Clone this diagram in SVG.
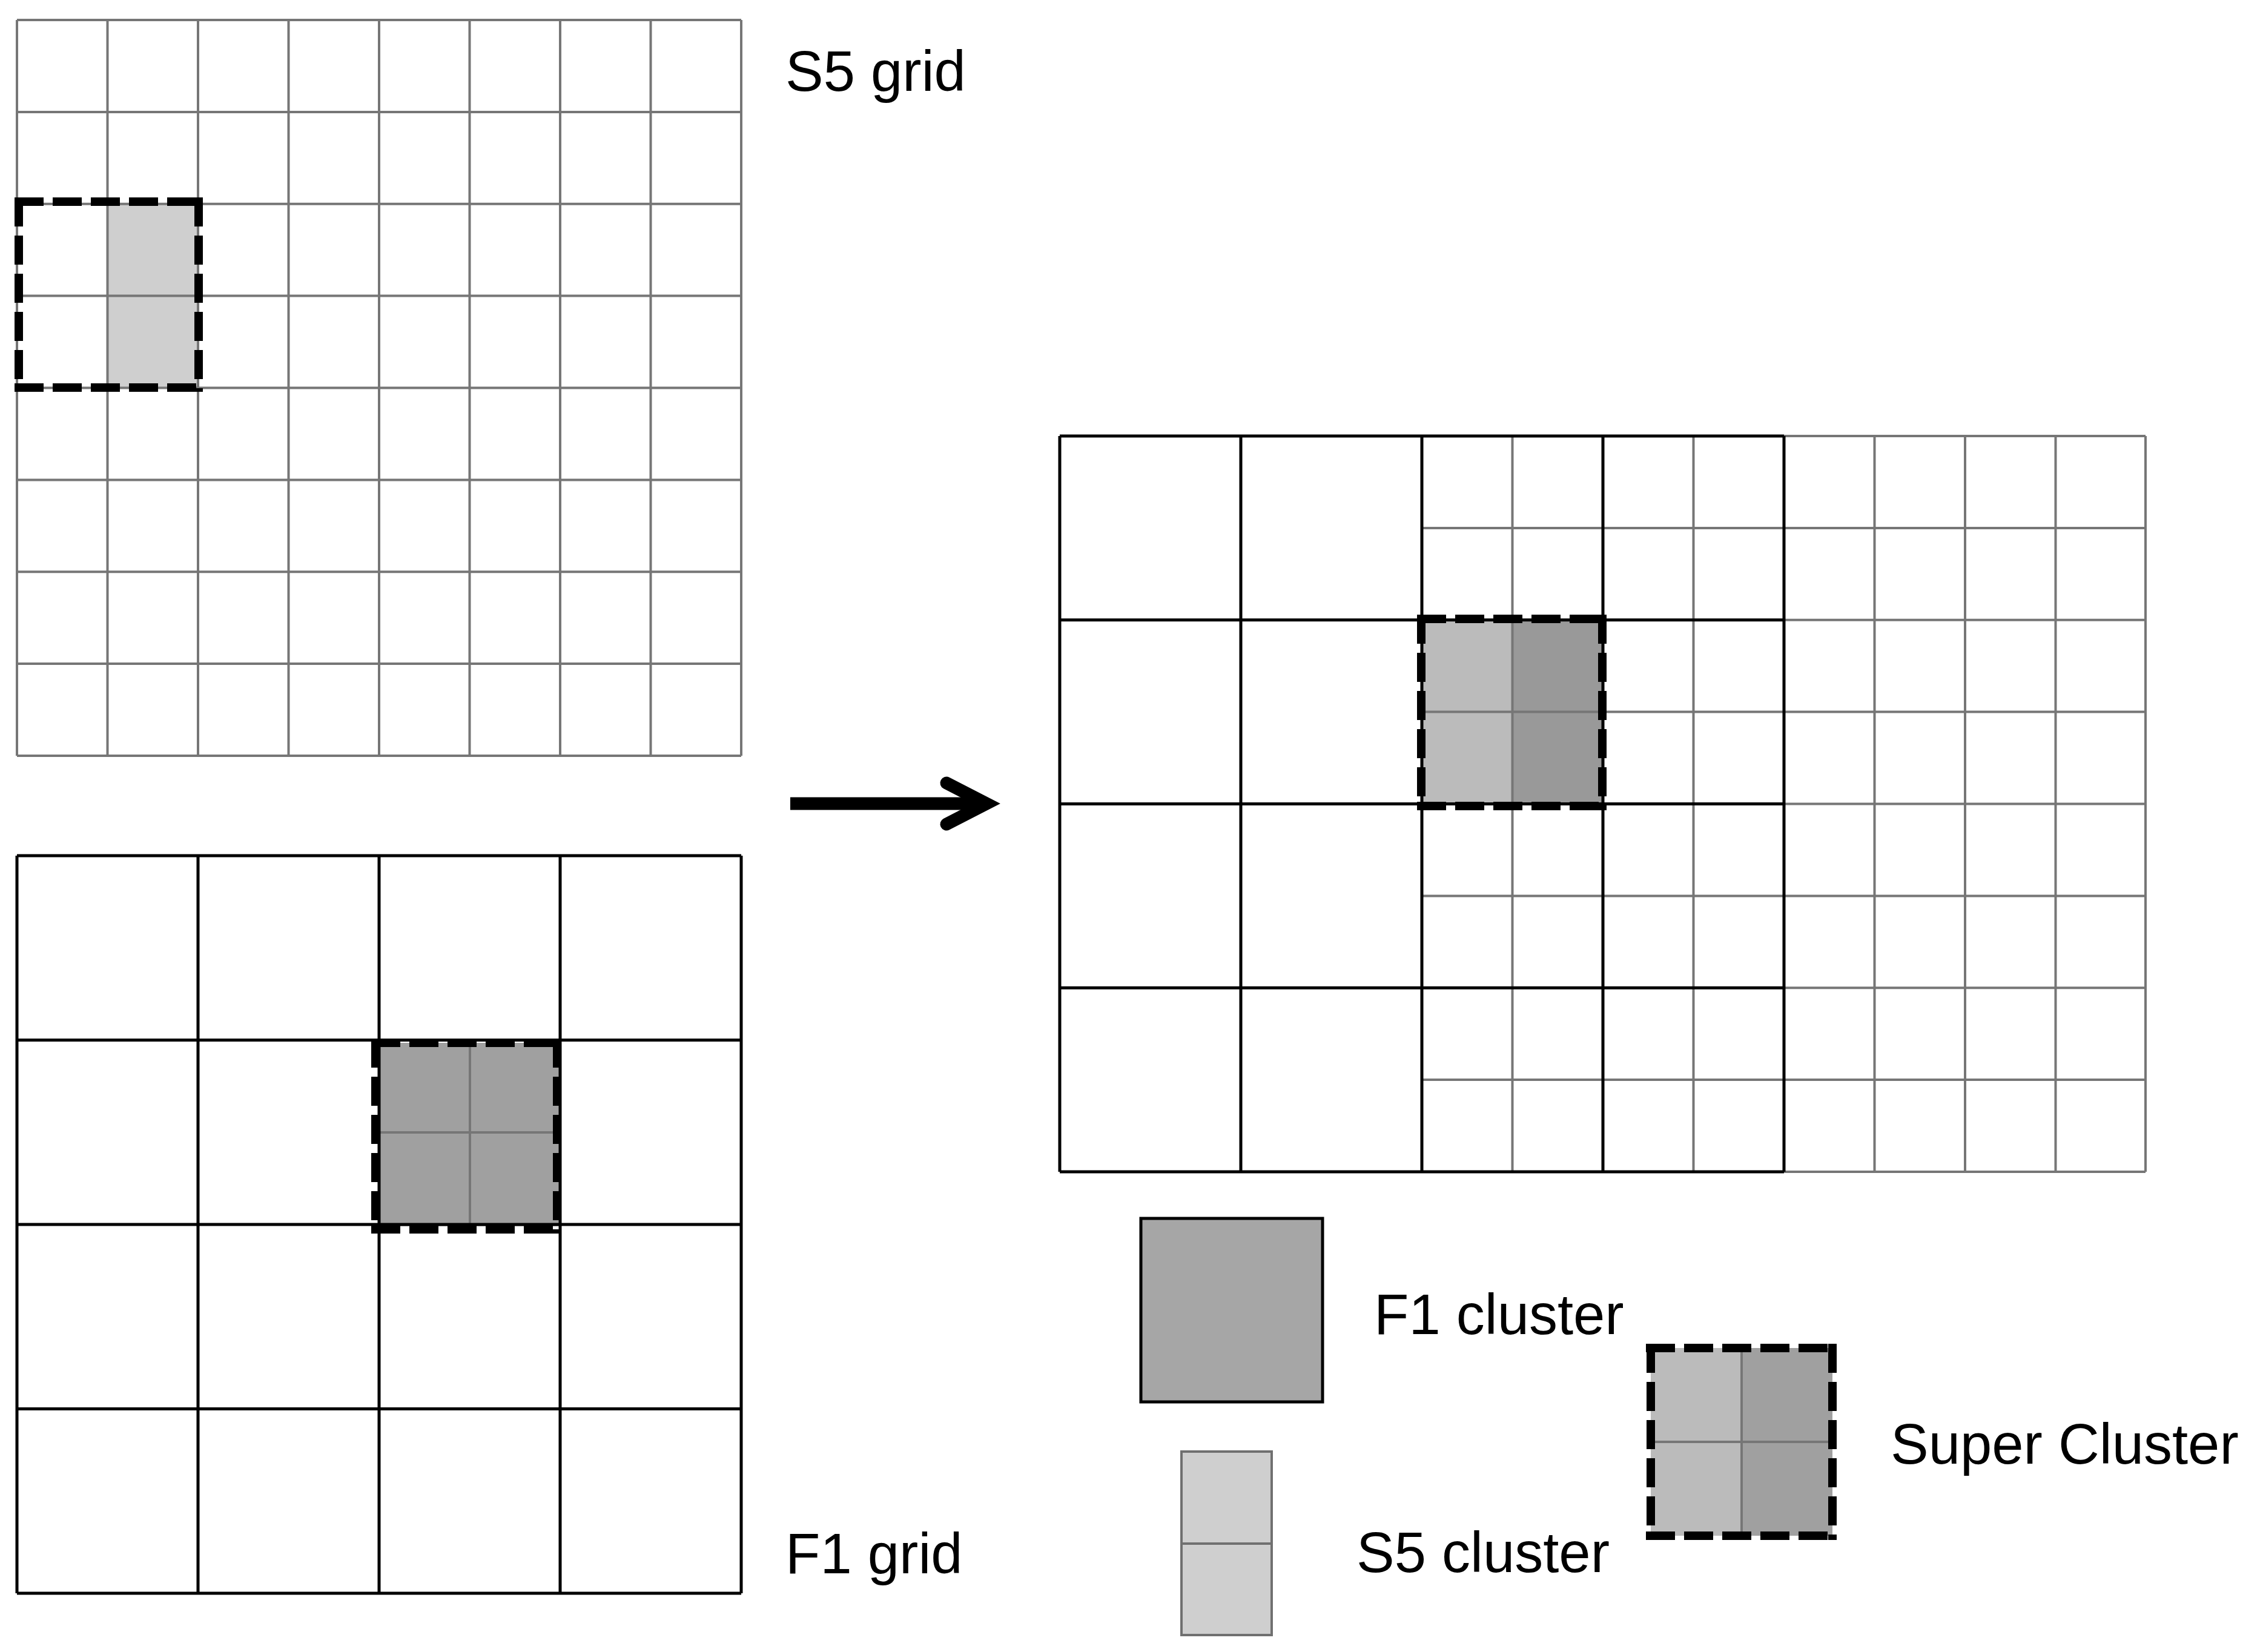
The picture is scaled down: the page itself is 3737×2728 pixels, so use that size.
<svg xmlns="http://www.w3.org/2000/svg" width="3737" height="2728" viewBox="0 0 3737 2728">
<style>
.gray{fill:none;stroke:#767676;stroke-width:4}
.black{fill:none;stroke:#000;stroke-width:5}
.dash{fill:none;stroke:#000;stroke-width:14;stroke-dasharray:48 15}
.lbl{font-family:"Liberation Sans",Arial,Helvetica,sans-serif;font-size:94px;fill:#000}
</style>
<rect width="3737" height="2728" fill="#fff"/>

<g id="s5-grid">
<rect x="177.5" y="336.8" width="149.5" height="303.7" fill="#cfcfcf"/>
<path class="gray" d="M28 33V1248M177.5 33V1248M327 33V1248M476.5 33V1248M626 33V1248M775.5 33V1248M925 33V1248M1074.5 33V1248M1224 33V1248M28 33H1224M28 184.9H1224M28 336.8H1224M28 488.6H1224M28 640.5H1224M28 792.4H1224M28 944.3H1224M28 1096.1H1224M28 1248H1224"/>
<path class="dash" d="M24 333H335M328 326V647M24 640H335M31 326V647"/>
</g>

<g id="f1-grid">
<rect x="626" y="1722" width="299" height="303" fill="#a0a0a0"/>
<path class="gray" d="M776 1722V2025M626 1870H925"/>
<path class="black" d="M28 1413V2631M327 1413V2631M626 1413V2631M925 1413V2631M1224 1413V2631M28 1413H1224M28 1717.5H1224M28 2022H1224M28 2326.5H1224M28 2631H1224"/>
<path class="dash" d="M613 1722H927M920 1715V2037M613 2030H927M620 1715V2037"/>
</g>

<g id="combined-grid">
<rect x="2348" y="1023.75" width="149.5" height="303.75" fill="#bbbbbb"/>
<rect x="2497.5" y="1023.75" width="149.5" height="303.75" fill="#999999"/>
<path class="gray" d="M2497.5 720V1935M2796.5 720V1935M2348 871.9H2946M2348 1175.6H2946M2348 1479.4H2946M2348 1783.1H2946M3095.5 720V1935M3245 720V1935M3394.5 720V1935M3543 720V1935M2946 720H3543M2946 871.9H3543M2946 1023.75H3543M2946 1175.6H3543M2946 1327.5H3543M2946 1479.4H3543M2946 1631.25H3543M2946 1783.1H3543M2946 1935H3543"/>
<path class="black" d="M1750 720V1935M2049 720V1935M2348 720V1935M2647 720V1935M2946 720V1935M1750 720H2946M1750 1023.75H2946M1750 1327.5H2946M1750 1631.25H2946M1750 1935H2946"/>
<path class="dash" d="M2340 1022H2653M2646 1015V1338M2340 1331H2653M2347 1015V1338"/>
</g>

<g id="legend-f1-cluster">
<rect x="1884" y="2012" width="300" height="303" fill="#a6a6a6" stroke="#000" stroke-width="5"/>
</g>

<g id="legend-s5-cluster">
<rect x="1951" y="2397" width="149" height="303" fill="#cfcfcf" stroke="#707070" stroke-width="4"/>
<path d="M1951 2549H2100" stroke="#707070" stroke-width="4"/>
</g>

<g id="legend-super-cluster">
<rect x="2726" y="2226" width="150" height="310" fill="#bbbbbb"/>
<rect x="2876" y="2226" width="150" height="310" fill="#a0a0a0"/>
<path class="gray" d="M2876 2226V2536M2726 2381H3026"/>
<path class="dash" d="M2718 2226H3033M3026 2219V2543M2718 2536H3033M2726 2219V2543"/>
</g>

<g id="connectors">
<path d="M1305 1327H1625" stroke="#000" stroke-width="21" fill="none"/>
<path d="M1563 1293L1629 1327L1563 1361" stroke="#000" stroke-width="21" fill="none" stroke-linecap="round" stroke-linejoin="miter"/>
</g>

<g id="labels">
<text class="lbl" x="1297" y="150">S5 grid</text>
<text class="lbl" x="1297" y="2598">F1 grid</text>
<text class="lbl" x="2269" y="2203">F1 cluster</text>
<text class="lbl" x="2240" y="2596">S5 cluster</text>
<text class="lbl" x="3122" y="2417">Super Cluster</text>
</g>
</svg>
